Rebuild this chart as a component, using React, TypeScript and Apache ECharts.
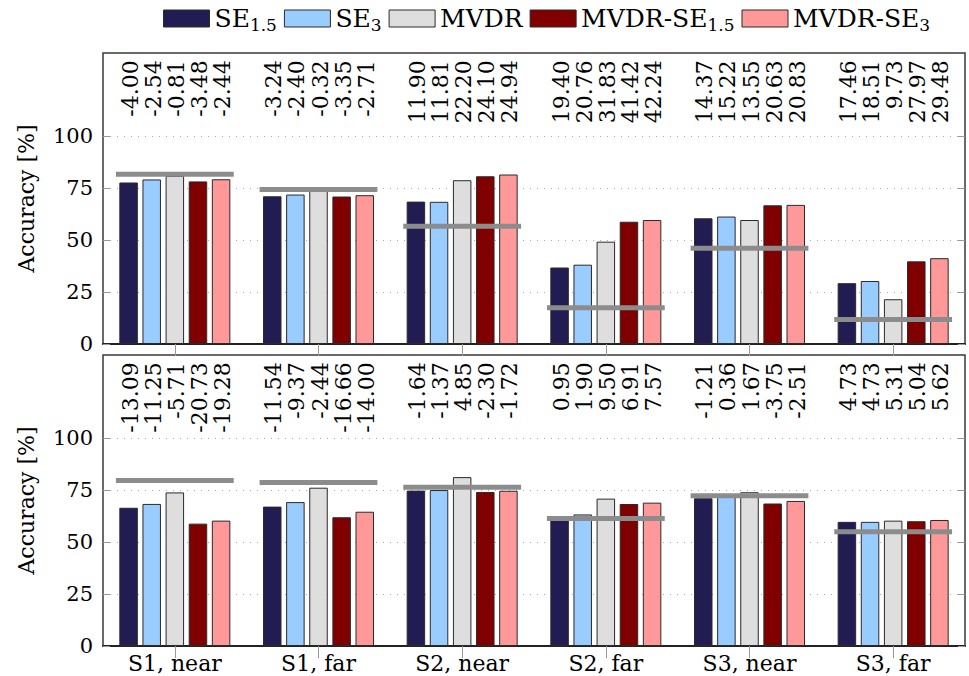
import React, { useEffect, useRef } from 'react';
import * as echarts from 'echarts';

const categories = ['S1, near', 'S1, far', 'S2, near', 'S2, far', 'S3, near', 'S3, far'];
const methods = ['SE1.5', 'SE3', 'MVDR', 'MVDR-SE1.5', 'MVDR-SE3'];
const colors = ['#211c52', '#99ccff', '#dedede', '#800000', '#ff9999'];

// top panel
const topBaseline = [81.7, 74.3, 56.6, 17.4, 46.1, 11.8];
const topSE15 = [77.7, 71.06, 68.5, 36.8, 60.47, 29.26];
const topSE3 = [79.16, 71.9, 68.41, 38.16, 61.32, 30.31];
const topMVDR = [80.89, 73.98, 78.8, 49.23, 59.65, 21.53];
const topMVDRSE15 = [78.22, 70.95, 80.7, 58.82, 66.73, 39.77];
const topMVDRSE3 = [79.26, 71.59, 81.54, 59.64, 66.93, 41.28];
const topLabels = [
  ['-4.00', '-3.24', '11.90', '19.40', '14.37', '17.46'],
  ['-2.54', '-2.40', '11.81', '20.76', '15.22', '18.51'],
  ['-0.81', '-0.32', '22.20', '31.83', '13.55', '9.73'],
  ['-3.48', '-3.35', '24.10', '41.42', '20.63', '27.97'],
  ['-2.44', '-2.71', '24.94', '42.24', '20.83', '29.48'],
];

// bottom panel
const botBaseline = [79.6, 78.6, 76.4, 61.4, 72.3, 55.0];
const botSE15 = [66.51, 67.06, 74.76, 62.35, 71.09, 59.73];
const botSE3 = [68.35, 69.23, 75.03, 63.3, 71.94, 59.73];
const botMVDR = [73.89, 76.16, 81.25, 70.9, 73.97, 60.31];
const botMVDRSE15 = [58.87, 61.94, 74.1, 68.31, 68.55, 60.04];
const botMVDRSE3 = [60.32, 64.6, 74.68, 68.97, 69.79, 60.62];
const botLabels = [
  ['-13.09', '-11.54', '-1.64', '0.95', '-1.21', '4.73'],
  ['-11.25', '-9.37', '-1.37', '1.90', '0.36', '4.73'],
  ['-5.71', '-2.44', '4.85', '9.50', '1.67', '5.31'],
  ['-20.73', '-16.66', '-2.30', '6.91', '-3.75', '5.04'],
  ['-19.28', '-14.00', '-1.72', '7.57', '-2.51', '5.62'],
];

const yTicks = [0, 25, 50, 75, 100];

const FONT = 'DejaVu Serif';
const BAR_W = 18.5;
const BAR_GAP = 0.25;
const LABEL_Y = 136.5;

export default function App() {
  const ref = useRef<HTMLDivElement>(null);
  useEffect(() => {
    document.body.style.margin = '0';
    const chart = echarts.init(ref.current!, null, { renderer: 'svg' });
    const panels = [
      { values: [topSE15, topSE3, topMVDR, topMVDRSE15, topMVDRSE3], base: topBaseline, labels: topLabels },
      { values: [botSE15, botSE3, botMVDR, botMVDRSE15, botMVDRSE3], base: botBaseline, labels: botLabels },
    ];
    const pitch = BAR_W * (1 + BAR_GAP);
    const series: any[] = [];
    panels.forEach((p, k) => {
      p.values.forEach((vals, j) => {
        series.push({
          type: 'bar',
          name: methods[j],
          xAxisIndex: k * 2,
          yAxisIndex: k * 2,
          data: vals,
          barWidth: BAR_W,
          barGap: BAR_GAP * 100 + '%',
          itemStyle: { color: colors[j], borderColor: '#2a2a2a', borderWidth: 1 },
          z: 2,
        });
      });
      series.push({
        type: 'custom',
        xAxisIndex: k * 2,
        yAxisIndex: k * 2,
        z: 5,
        silent: true,
        data: p.base.map((v, i) => [i, v]),
        renderItem: (params: any, api: any) => {
          const c = api.coord([api.value(0), api.value(1)]);
          const w = api.size([1, 0])[0];
          return {
            type: 'line',
            shape: { x1: c[0] - 0.41 * w, y1: c[1], x2: c[0] + 0.41 * w, y2: c[1] },
            style: { stroke: '#8c8c8c', lineWidth: 5 },
          };
        },
      });
      const labData: number[][] = [];
      categories.forEach((_, g) => methods.forEach((__, j) => labData.push([g, j])));
      series.push({
        type: 'custom',
        xAxisIndex: k * 2,
        yAxisIndex: k * 2,
        z: 6,
        silent: true,
        data: labData,
        renderItem: (params: any, api: any) => {
          const g = api.value(0);
          const j = api.value(1);
          const c = api.coord([g, LABEL_Y]);
          return {
            type: 'text',
            x: c[0] + (j - 2) * pitch + 1.5,
            y: c[1],
            rotation: Math.PI / 2,
            style: {
              text: p.labels[j][g],
              fill: '#000',
              font: `22px ${FONT}`,
              align: 'right',
              verticalAlign: 'middle',
            },
          };
        },
      });
    });

    const grids = [
      { left: 103, right: 4, top: 53, height: 291 },
      { left: 103, right: 4, top: 355, height: 291 },
    ].map((g) => ({ ...g, show: true, borderColor: '#3a3a3a', borderWidth: 1.5, backgroundColor: 'transparent' }));

    const xAxes: any[] = [];
    const yAxes: any[] = [];
    [0, 1].forEach((k) => {
      xAxes.push({
        type: 'category',
        gridIndex: k,
        data: categories,
        position: 'bottom',
        axisLine: { show: true, lineStyle: { color: '#222', width: 2 } },
        axisTick: { show: false },
        axisLabel: {
          show: k === 1,
          fontSize: 22,
          fontFamily: FONT,
          color: '#000',
          margin: 6,
        },
      });
      xAxes.push({
        type: 'category',
        gridIndex: k,
        data: categories,
        position: 'top',
        axisLine: { show: false },
        axisTick: { show: true, inside: true, alignWithLabel: true, length: 12, lineStyle: { color: '#999', width: 1 } },
        axisLabel: { show: false },
      });
      yAxes.push({
        type: 'value',
        gridIndex: k,
        min: 0,
        max: 140,
        interval: 25,
        name: 'Accuracy [%]',
        nameLocation: 'middle',
        nameGap: 66,
        nameTextStyle: { fontSize: 22, fontFamily: FONT, color: '#000' },
        axisLine: { show: false },
        axisTick: {
          show: true,
          inside: true,
          length: 7,
          customValues: yTicks,
          lineStyle: { color: '#999' },
        },
        axisLabel: {
          fontSize: 21,
          fontFamily: FONT,
          color: '#000',
          margin: 10,
          customValues: yTicks,
          formatter: (v: number) => (v <= 100 ? String(v) : ''),
        },
        splitLine: {
          show: true,
          lineStyle: {
            color: ['transparent', '#aaa', '#aaa', '#aaa', '#aaa', 'transparent'],
            type: [1, 6],
            width: 1,
          },
        },
      });
      yAxes.push({
        type: 'value',
        gridIndex: k,
        position: 'right',
        min: 0,
        max: 140,
        interval: 25,
        axisLine: { show: false },
        axisTick: {
          show: true,
          inside: true,
          length: 7,
          customValues: yTicks,
          lineStyle: { color: '#999' },
        },
        axisLabel: { show: false },
        splitLine: { show: false },
      });
    });

    chart.setOption({
      animation: false,
      backgroundColor: '#fff',
      legend: {
        data: methods,
        top: 1,
        left: 158,
        itemWidth: 46,
        itemHeight: 17,
        itemGap: 7,
        icon: 'rect',
        itemStyle: { borderColor: '#2a2a2a', borderWidth: 1 },
        formatter: (name: string) => {
          const m = name.match(/^(.*SE)(1\.5|3)$/);
          if (m) return `{n|${m[1]}}{s|${m[2]}}`;
          return `{n|${name}}`;
        },
        textStyle: {
          color: '#000',
          fontFamily: FONT,
          fontSize: 25,
          rich: {
            n: { fontSize: 25, fontFamily: FONT, color: '#000', lineHeight: 30 },
            s: { fontSize: 17, fontFamily: FONT, color: '#000', lineHeight: 14, verticalAlign: 'bottom' },
          },
        },
      },
      grid: grids,
      xAxis: xAxes,
      yAxis: yAxes,
      series,
    });
    return () => chart.dispose();
  }, []);
  return <div ref={ref} style={{ position: 'fixed', left: 0, top: 0, width: 969, height: 676 }} />;
}
